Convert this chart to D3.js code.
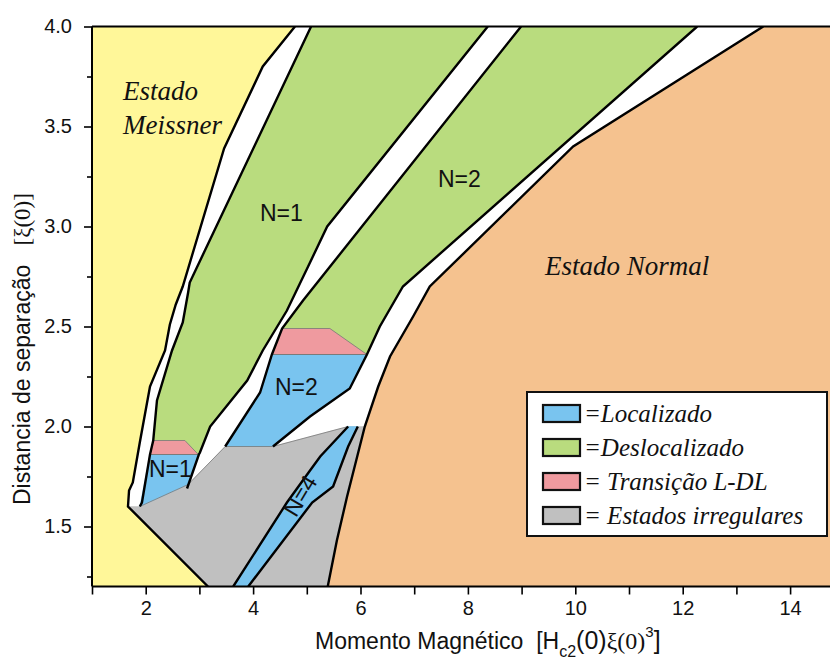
<!DOCTYPE html>
<html><head><meta charset="utf-8">
<script src="https://cdn.jsdelivr.net/npm/d3@7"></script>
<style>body{margin:0;background:#fff} svg{display:block} text{white-space:pre}</style>
</head><body><svg id="c" width="830" height="659"></svg>
<script>
// ---- data (x: magnetic moment, y: separation distance) ----
const xTicks = [2, 4, 6, 8, 10, 12, 14];
const xMinor = [1, 3, 5, 7, 9, 11, 13];
const yTicks = [1.5, 2.0, 2.5, 3.0, 3.5, 4.0];
const yMinor = [1.25, 1.75, 2.25, 2.75, 3.25, 3.75];

const meissnerEdge = [[4.78,4.0],[4.18,3.80],[3.46,3.39],[2.69,2.70],[2.56,2.61],[2.45,2.51],[2.36,2.38],[2.08,2.20],[1.89,1.92],[1.76,1.72],[1.69,1.68],[1.67,1.60],[3.16,1.20]];
const n1LeftEdge = [[5.08,4.0],[2.82,2.72],[2.79,2.67],[2.69,2.52],[2.49,2.38],[2.21,2.13],[2.14,1.93],[2.08,1.86],[1.93,1.62],[1.89,1.60]];
const n1RightEdge = [[8.37,4.0],[5.38,3.0],[5.06,2.82],[4.63,2.58],[4.18,2.38],[3.89,2.23],[3.20,2.0],[3.01,1.87],[2.99,1.86],[2.77,1.69]];
const n2LeftEdge = [[8.99,4.0],[4.93,2.63],[4.54,2.49],[4.35,2.36],[4.13,2.17],[3.48,1.90]];
const n2RightEdge = [[12.27,4.0],[6.79,2.70],[6.36,2.50],[6.12,2.36],[5.80,2.19],[5.06,2.05],[4.37,1.90]];
const normalEdge = [[13.50,4.0],[9.96,3.40],[7.29,2.70],[6.98,2.55],[6.55,2.35],[6.33,2.20],[6.08,2.0],[5.75,1.65],[5.56,1.43],[5.39,1.20]];
const n4LeftEdge = [[5.77,2.0],[5.25,1.85],[5.06,1.78],[4.63,1.62],[3.63,1.20]];
const n4RightEdge = [[5.95,2.0],[5.77,1.90],[5.49,1.70],[5.10,1.62],[3.91,1.20]];
const pinkN1 = [[2.14,1.93],[2.73,1.93],[2.98,1.86],[2.08,1.86]];
const blueN1 = [[2.08,1.86],[2.99,1.86],[2.79,1.71],[1.89,1.60]];
const pinkN2 = [[4.54,2.49],[5.43,2.49],[6.12,2.36],[4.35,2.36]];
const irregularTop = [[1.67,1.60],[1.89,1.60],[2.79,1.71],[3.48,1.90],[4.37,1.90],[5.77,2.0],[6.08,2.0]];

const legendLabels = ["=Localizado", "=Deslocalizado", "= Transição L-DL", "= Estados irregulares"];
const legendColors = ["#79c4ef", "#b9dc7e", "#ef9a9f", "#c0c0c0"];

// ---- drawing ----
const W = 830, H = 659;
const svg = d3.select("#c");
const x = d3.scaleLinear([1, 15], [92, 92 + 14 * 53.7]);
const y = d3.scaleLinear([1.2, 4.0], [586.5, 26.5]);
const X0 = 1, X1 = 15, Y0 = 1.2, Y1 = 4.0;

svg.append("defs").append("clipPath").attr("id", "clip")
  .append("rect").attr("x", x(X0)).attr("y", y(Y1)).attr("width", x(X1) - x(X0)).attr("height", y(Y0) - y(Y1));

const g = svg.append("g").attr("clip-path", "url(#clip)");
const line = d3.line().x(d => x(d[0])).y(d => y(d[1]));
const poly = pts => line(pts) + "Z";
const rev = a => a.slice().reverse();

// fills
const yellowPoly = [[X0, Y1], ...meissnerEdge, [X0, Y0]];
const greenN1 = [...n1LeftEdge.slice(0, 8), [2.99,1.86], ...rev(n1RightEdge.slice(0, 8))];
const greenN2 = [...n2LeftEdge.slice(0, 4), ...rev(n2RightEdge.slice(0, 4))];
const blueN2 = [[4.35,2.36], ...n2RightEdge.slice(3), ...rev(n2LeftEdge.slice(3))];
const orangePoly = [[X1, Y1], [X1, Y0], ...rev(normalEdge)];
const greyPoly = [...irregularTop, ...normalEdge.slice(6), [3.16, 1.20]];
const blueN4 = [...n4LeftEdge, ...rev(n4RightEdge)];

const fills = [
  [yellowPoly, "#fff799"], [orangePoly, "#f5c28f"], [greyPoly, "#c0c0c0"],
  [greenN1, legendColors[1]], [greenN2, legendColors[1]],
  [blueN1, legendColors[0]], [blueN2, legendColors[0]], [blueN4, legendColors[0]],
];
fills.forEach(([p, c]) => g.append("path").attr("d", poly(p)).attr("fill", c).attr("stroke", c).attr("stroke-width", 0.5));
[pinkN1, pinkN2].forEach(p => g.append("path").attr("d", poly(p)).attr("fill", legendColors[2]).attr("stroke", "#777").attr("stroke-width", 0.8));

// thin boundary lines
[[[2.08,1.86],[2.99,1.86]], [[1.89,1.60],[2.79,1.71],[3.48,1.90]], [[4.37,1.90],[5.77,2.0]], [[4.35,2.36],[6.12,2.36]], [[3.48,1.90],[4.37,1.90]]]
  .forEach(p => g.append("path").attr("d", line(p)).attr("fill", "none").attr("stroke", "#777").attr("stroke-width", 0.8));

// thick black boundaries
[meissnerEdge, n1LeftEdge, n1RightEdge, n2LeftEdge, n2RightEdge, normalEdge, n4LeftEdge, n4RightEdge]
  .forEach(p => g.append("path").attr("d", line(p)).attr("fill", "none").attr("stroke", "#000")
    .attr("stroke-width", 2.4).attr("stroke-linejoin", "miter"));

// region labels
const sans = "'Liberation Sans', Arial, sans-serif", serif = "'Liberation Serif', 'Times New Roman', serif";
const lab = (t, px, py, size, fam, ital, rot) => {
  const e = svg.append("text").attr("x", px).attr("y", py).attr("font-family", fam).attr("font-size", size)
    .attr("font-style", ital ? "italic" : "normal").attr("fill", "#111").text(t);
  if (rot) e.attr("text-anchor", "middle").attr("transform", `rotate(${rot},${px},${py})`);
  return e;
};
lab("Estado", 123, 100, 27, serif, true);
lab("Meissner", 123, 134, 27, serif, true);
lab("Estado Normal", 545, 275, 27, serif, true);
lab("N=1", 260, 221, 23, sans);
lab("N=2", 438, 187, 23, sans);
lab("N=2", 275, 395, 23, sans);
lab("N=1", 149, 477, 23, sans);
lab("N=4", 307, 500, 23, sans, false, -59);

// axes
const axG = svg.append("g");
axG.append("line").attr("x1", x(X0)).attr("x2", W).attr("y1", y(Y1)).attr("y2", y(Y1)).attr("stroke", "#000").attr("stroke-width", 2);
axG.append("line").attr("x1", x(X0)).attr("x2", x(X0)).attr("y1", y(Y1)).attr("y2", y(Y0)).attr("stroke", "#000").attr("stroke-width", 2);
axG.append("line").attr("x1", x(X0)).attr("x2", W).attr("y1", y(Y0)).attr("y2", y(Y0)).attr("stroke", "#000").attr("stroke-width", 2);

const yAxis = svg.append("g").attr("transform", `translate(${x(X0)},0)`)
  .call(d3.axisLeft(y).tickValues(yTicks).tickSize(8).tickSizeOuter(0).tickFormat(d3.format(".1f")));
const yAxisMinor = svg.append("g").attr("transform", `translate(${x(X0)},0)`)
  .call(d3.axisLeft(y).tickValues(yMinor).tickSize(5).tickSizeOuter(0).tickFormat(""));
const xAxis = svg.append("g").attr("transform", `translate(0,${y(Y0)})`)
  .call(d3.axisBottom(x).tickValues(xTicks).tickSize(8).tickSizeOuter(0).tickFormat(d3.format("d")));
const xAxisMinor = svg.append("g").attr("transform", `translate(0,${y(Y0)})`)
  .call(d3.axisBottom(x).tickValues(xMinor).tickSize(8).tickSizeOuter(0).tickFormat(""));
[yAxis, yAxisMinor, xAxis, xAxisMinor].forEach(a => {
  a.select(".domain").remove();
  a.selectAll(".tick line").attr("stroke", "#000").attr("stroke-width", 1.6);
  a.selectAll(".tick text").attr("font-family", sans).attr("font-size", 20).attr("fill", "#111");
});
yAxis.selectAll(".tick text").attr("x", -20);
xAxis.selectAll(".tick text").attr("y", 14);

// axis titles
const xt = svg.append("text").attr("x", 315).attr("y", 649).attr("font-family", sans).attr("font-size", 23).attr("fill", "#111");
xt.append("tspan").text("Momento Magnético  [H");
xt.append("tspan").attr("font-size", 16).attr("dy", 8).text("c2");
xt.append("tspan").attr("dy", -8).attr("font-size", 25).text("(0)");
xt.append("tspan").attr("font-family", serif).attr("font-size", 24).text("ξ(0)");
xt.append("tspan").attr("font-size", 15).attr("dy", -12).text("3");
xt.append("tspan").attr("dy", 12).attr("font-size", 25).text("]");

const yt = svg.append("text").attr("transform", "translate(30,505) rotate(-90)").attr("font-family", sans).attr("font-size", 23).attr("fill", "#111");
yt.append("tspan").text("Distancia de separação   ");
yt.append("tspan").attr("font-family", serif).attr("font-size", 23).text("[ξ(0)]");

// legend
const lg = svg.append("g");
lg.append("rect").attr("x", 527).attr("y", 392).attr("width", 300).attr("height", 144).attr("fill", "#fff").attr("stroke", "#111").attr("stroke-width", 2);
legendLabels.forEach((t, i) => {
  const yy = 405 + i * 34;
  lg.append("rect").attr("x", 543).attr("y", yy).attr("width", 37).attr("height", 17).attr("fill", legendColors[i]).attr("stroke", "#111").attr("stroke-width", 2.2);
  lg.append("text").attr("x", 584).attr("y", yy + 17).attr("font-family", serif).attr("font-style", "italic").attr("font-size", 25).attr("fill", "#111").text(t);
});
</script></body></html>
